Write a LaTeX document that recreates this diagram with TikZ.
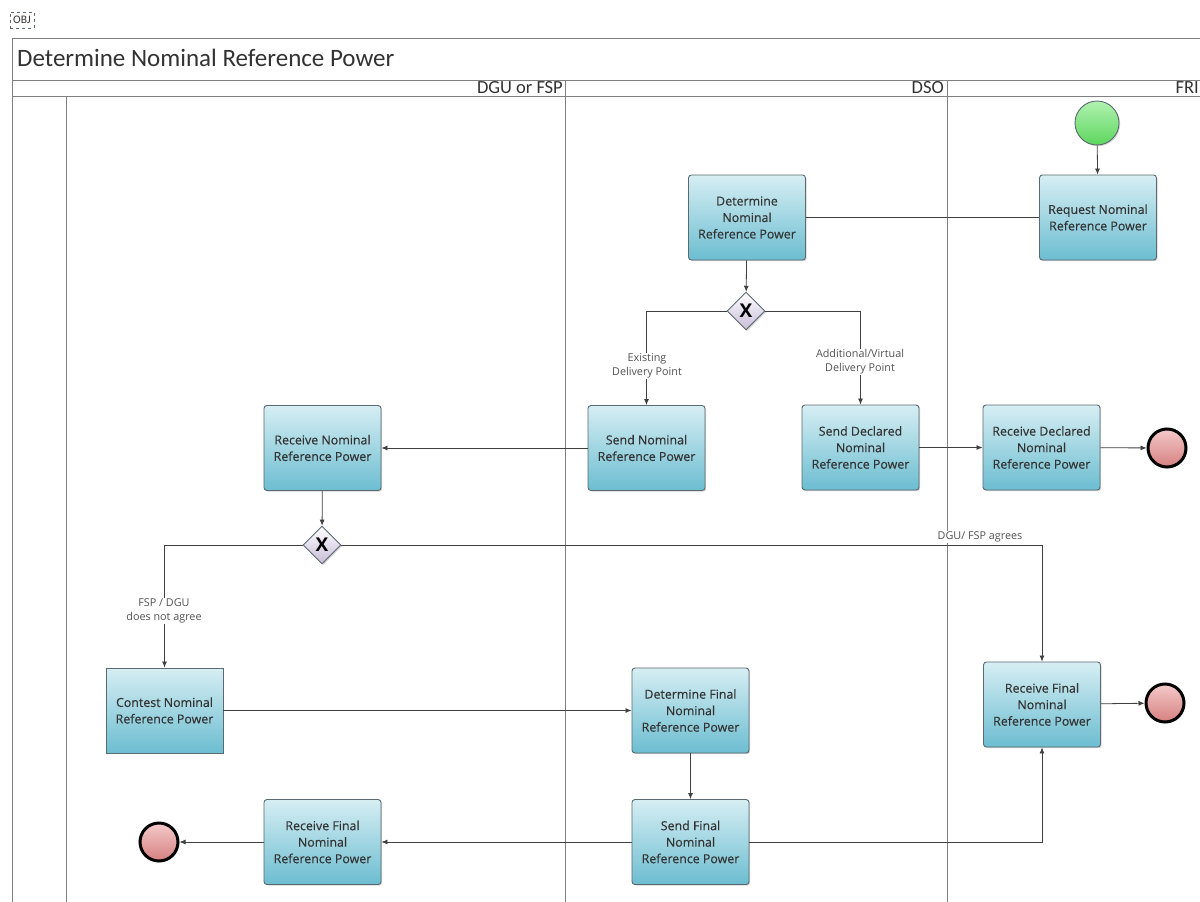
\documentclass[tikz,border=0pt]{standalone}
\usepackage{fontspec}
\setmainfont{Open Sans}
\newfontfamily\carlitofont{Carlito}
\newfontfamily\taskfont{Open Sans}[FakeBold=0.35]
\usetikzlibrary{shapes.geometric,shadows,arrows.meta}
\definecolor{boxtop}{HTML}{D6EEF3}
\definecolor{boxbot}{HTML}{6CBDD1}
\definecolor{boxline}{HTML}{5A6A70}
\definecolor{txt}{HTML}{333333}
\definecolor{lane}{HTML}{808080}
\definecolor{flowc}{HTML}{404040}
\definecolor{HTML2}{HTML}{C8BCD8}
\definecolor{startt}{HTML}{B0F2B0}
\definecolor{startb}{HTML}{5ED65E}
\definecolor{endt}{HTML}{F4CACA}
\definecolor{endb}{HTML}{D67F7F}
\tikzset{
  task/.style={rectangle, rounded corners=3pt, draw=boxline, line width=0.9pt,
    top color=boxtop, bottom color=boxbot, minimum width=117pt, minimum height=85pt,
    inner sep=1pt, align=center, text=txt, font=\taskfont\fontsize{12.4}{16.5}\selectfont,
    drop shadow={shadow xshift=1.2pt, shadow yshift=-1.2pt, opacity=0.35}},
  sqtask/.style={task, rounded corners=0pt},
  gate/.style={diamond, draw=boxline, line width=0.9pt, top color=white, bottom color=HTML2,
    minimum width=38pt, minimum height=38pt, inner sep=0pt, font=\bfseries\fontsize{19}{19}\selectfont,
    drop shadow={shadow xshift=1.2pt, shadow yshift=-1.2pt, opacity=0.35}},
  startev/.style={circle, draw=boxline, line width=0.9pt, top color=startt, bottom color=startb,
    minimum size=44pt, inner sep=0pt,
    drop shadow={shadow xshift=1.2pt, shadow yshift=-1.2pt, opacity=0.3}},
  endev/.style={circle, draw=black, line width=3pt, top color=endt, bottom color=endb,
    minimum size=38pt, inner sep=0pt,
    drop shadow={shadow xshift=1.2pt, shadow yshift=-1.2pt, opacity=0.3}},
  flow/.style={draw=flowc, line width=0.8pt, -{Latex[length=6pt,width=5pt]}},
  plain/.style={draw=flowc, line width=0.8pt},
  lbl/.style={fill=white, inner sep=1pt, align=center, text=txt!85, font=\fontsize{10.8}{14}\selectfont},
  lanel/.style={draw=lane, line width=1pt},
}
\begin{document}
\begin{tikzpicture}[x=1pt,y=-1pt]
\useasboundingbox (0,0) rectangle (1200,902);
\clip (0,0) rectangle (1200,902);
\fill[white] (0,0) rectangle (1200,902);
% OBJ marker
\node[draw=boxline, dashed, line width=0.7pt, inner sep=0pt, minimum width=24pt, minimum height=16pt, font=\carlitofont\fontsize{11.5}{11.5}\selectfont, text=txt] (obj) at (22,20) {OBJ};
% pool and lanes
\draw[lanel] (1210,38) -- (12,38) -- (12,910);
\draw[lanel] (12,80) -- (1210,80);
\draw[lanel] (12,96) -- (1210,96);
\draw[lanel] (66,96) -- (66,910);
\draw[lanel] (565,80) -- (565,910);
\draw[lanel] (947,80) -- (947,910);
\node[anchor=west, inner sep=0pt, font=\carlitofont\fontsize{25}{25}\selectfont, text=txt] (title) at (17,58) {Determine Nominal Reference Power};
\node[anchor=east, inner sep=0pt, font=\carlitofont\fontsize{18.5}{18.5}\selectfont, text=txt] (l1) at (563,88) {DGU or FSP};
\node[anchor=east, inner sep=0pt, font=\carlitofont\fontsize{18.5}{18.5}\selectfont, text=txt] (l2) at (944,88) {DSO};
\node[anchor=east, inner sep=0pt, font=\carlitofont\fontsize{18.5}{18.5}\selectfont, text=txt] (l3) at (1199,88) {FRI};
% nodes
\node[startev] (start) at (1097,123) {};
\node[task] (req) at (1098,217.5) {Request Nominal\\Reference Power};
\node[task] (det) at (747,217.5) {Determine\\Nominal\\Reference Power};
\node[gate] (g1) at (746,311) {X};
\node[task] (sendN) at (646.5,448) {Send Nominal\\Reference Power};
\node[task] (recvN) at (322.5,448) {Receive Nominal\\Reference Power};
\node[task] (sendD) at (860.5,447.5) {Send Declared\\Nominal\\Reference Power};
\node[task] (recvD) at (1041.5,447.5) {Receive Declared\\Nominal\\Reference Power};
\node[endev] (end1) at (1167,448) {};
\node[gate] (g2) at (322,545) {X};
\node[sqtask] (contest) at (164.5,710.5) {Contest Nominal\\Reference Power};
\node[task] (detF) at (690.5,710.5) {Determine Final\\Nominal\\Reference Power};
\node[task] (recvFF) at (1042,704.5) {Receive Final\\Nominal\\Reference Power};
\node[endev] (end2) at (1165,703) {};
\node[task] (sendF) at (690.5,842) {Send Final\\Nominal\\Reference Power};
\node[task] (recvFD) at (322.5,842) {Receive Final\\Nominal\\Reference Power};
\node[endev] (end3) at (159,842) {};
% flows
\draw[flow] (start) -- (req);
\draw[plain] (det) -- (req);
\draw[flow] (det) -- (g1);
\draw[flow] (g1.west) -| (sendN.north);
\draw[flow] (g1.east) -| (sendD.north);
\draw[flow] (sendN) -- (recvN);
\draw[flow] (sendD) -- (recvD);
\draw[flow] (recvD) -- (end1);
\draw[flow] (recvN) -- (g2);
\draw[flow] (g2.west) -| (contest.north);
\draw[flow] (g2.east) -| (recvFF.north);
\draw[flow] (contest) -- (detF);
\draw[flow] (detF) -- (sendF);
\draw[flow] (sendF) -- (recvFD);
\draw[flow] (recvFD) -- (end3);
\draw[flow] (sendF.east) -| (recvFF.south);
\draw[flow] (recvFF) -- (end2);
% labels
\node[lbl] (la) at (647,366) {Existing\\Delivery Point};
\node[lbl] (lb) at (860,362) {Additional/Virtual\\Delivery Point};
\node[lbl] (lc) at (164,611) {FSP / DGU\\does not agree};
\node[lbl] (ld) at (980,537) {DGU/ FSP agrees};
\end{tikzpicture}
\end{document}
